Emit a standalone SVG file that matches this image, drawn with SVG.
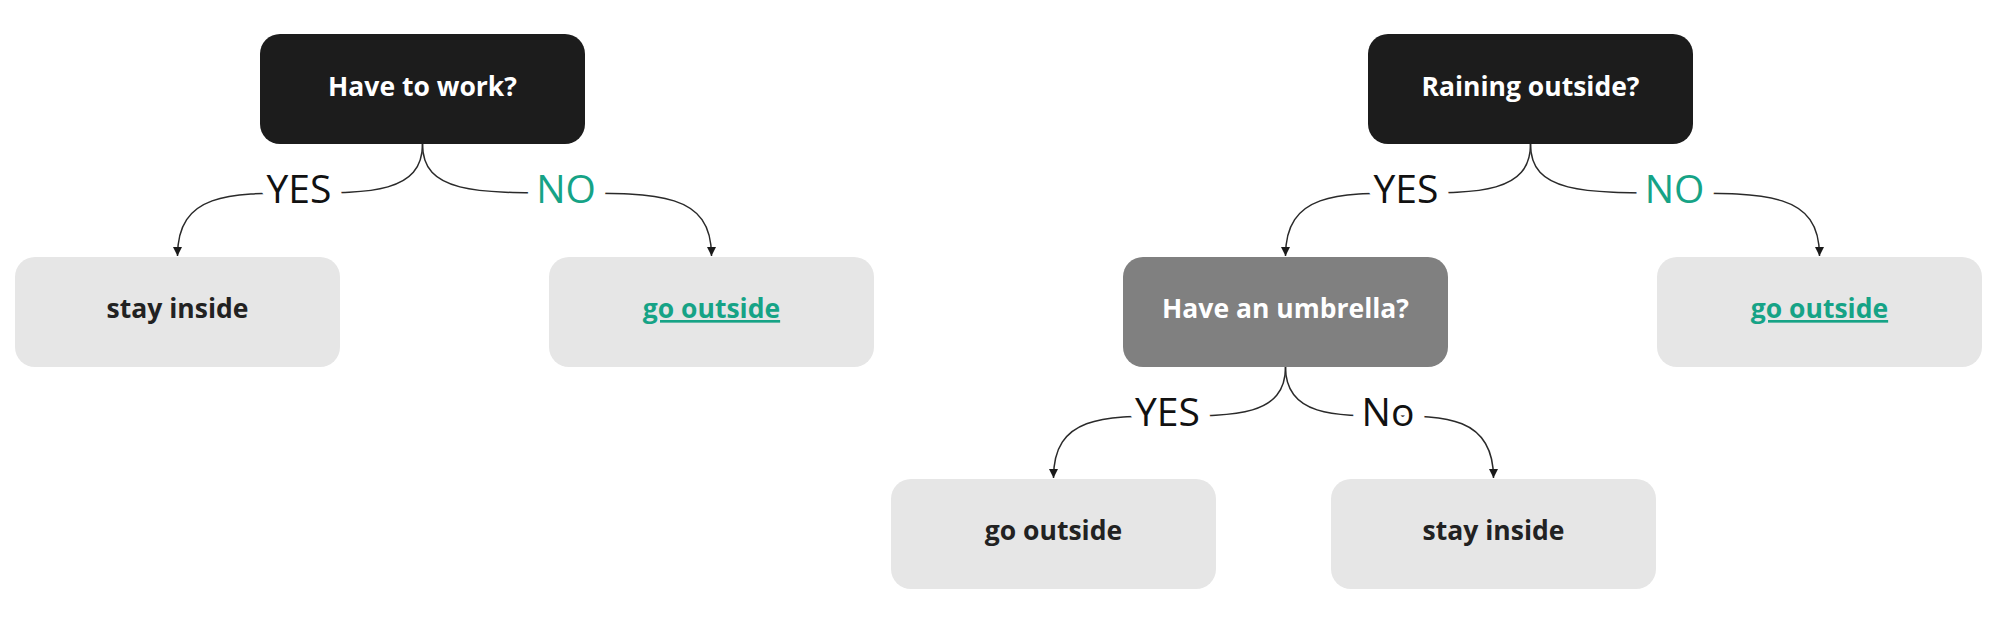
<svg xmlns="http://www.w3.org/2000/svg" width="1999" height="628" viewBox="0 0 1999 628">
  <style>
    .dark { fill: #1c1c1c; }
    .mid { fill: #808080; }
    .light { fill: #e6e6e6; }
    .t { font-family: "Open Sans", "Liberation Sans", sans-serif; font-weight: bold; font-size: 26.5px; text-anchor: middle; }
    .tw { fill: #ffffff; }
    .tk { fill: #222222; }
    .link { fill: #16a386; text-decoration: underline; }
    .edge { fill: none; stroke: #2a2a2a; stroke-width: 1.5; marker-end: url(#arrow); }
    .lbl { font-family: "Open Sans", "Liberation Sans", sans-serif; font-size: 39px; text-anchor: middle; fill: #111111; stroke: #ffffff; stroke-width: 24; stroke-linejoin: round; paint-order: stroke; }
    .green { fill: #16a386; }
  </style>
  <defs>
    <marker id="arrow" viewBox="0 0 10 10" refX="10" refY="5" markerUnits="userSpaceOnUse" markerWidth="17" markerHeight="9" orient="auto">
      <path d="M0,0 L10,5 L0,10 Z" fill="#1a1a1a"/>
    </marker>
  </defs>
  <rect width="1999" height="628" fill="#ffffff"/>

  <g id="connectors">
    <path class="edge" d="M422.5 144 C422.5 193 371 193 300 193 C229 193 177.5 193 177.5 256"/>
    <path class="edge" d="M422.5 144 C422.5 193 474 193 567 193 C660 193 711.5 193 711.5 256"/>
    <path class="edge" d="M1530.5 144 C1530.5 193 1479 193 1408 193 C1337 193 1285.5 193 1285.5 256"/>
    <path class="edge" d="M1530.5 144 C1530.5 193 1582 193 1675 193 C1768 193 1819.5 193 1819.5 256"/>
    <path class="edge" d="M1285.5 367 C1285.5 416 1236 416 1169.5 416 C1103 416 1053.5 416 1053.5 478"/>
    <path class="edge" d="M1285.5 367 C1285.5 416 1335 416 1389.5 416 C1444 416 1493.5 416 1493.5 478"/>
    <text class="lbl" x="299" y="203">YES</text>
    <text class="lbl green" x="566" y="203">NO</text>
    <text class="lbl" x="1406" y="203">YES</text>
    <text class="lbl green" x="1674.5" y="203">NO</text>
    <text class="lbl" x="1167.5" y="426">YES</text>
    <text class="lbl" x="1388" y="426">No</text>
  </g>

  <g id="have-to-work">
    <rect class="dark" x="260" y="34" width="325" height="110" rx="20"/>
    <text class="t tw" x="422.5" y="96">Have to work?</text>
  </g>
  <g id="stay-inside-1">
    <rect class="light" x="15" y="257" width="325" height="110" rx="20"/>
    <text class="t tk" x="177.5" y="318">stay inside</text>
  </g>
  <g id="go-outside-1">
    <rect class="light" x="549" y="257" width="325" height="110" rx="20"/>
    <text class="t link" x="711.5" y="318">go outside</text>
  </g>
  <g id="raining-outside">
    <rect class="dark" x="1368" y="34" width="325" height="110" rx="20"/>
    <text class="t tw" x="1530.5" y="96">Raining outside?</text>
  </g>
  <g id="have-umbrella">
    <rect class="mid" x="1123" y="257" width="325" height="110" rx="20"/>
    <text class="t tw" x="1285.5" y="318">Have an umbrella?</text>
  </g>
  <g id="go-outside-2">
    <rect class="light" x="1657" y="257" width="325" height="110" rx="20"/>
    <text class="t link" x="1819.5" y="318">go outside</text>
  </g>
  <g id="go-outside-3">
    <rect class="light" x="891" y="479" width="325" height="110" rx="20"/>
    <text class="t tk" x="1053.5" y="540">go outside</text>
  </g>
  <g id="stay-inside-2">
    <rect class="light" x="1331" y="479" width="325" height="110" rx="20"/>
    <text class="t tk" x="1493.5" y="540">stay inside</text>
  </g>
</svg>
